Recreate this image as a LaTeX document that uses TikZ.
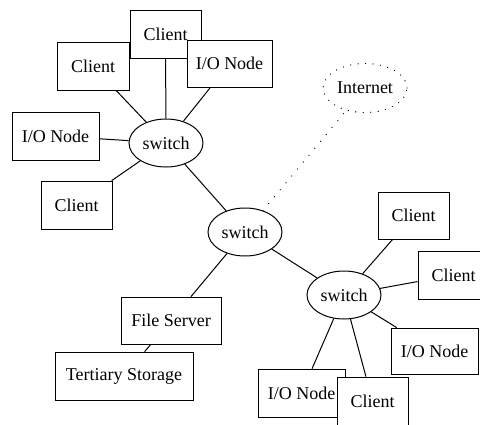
\documentclass[tikz,border=0pt]{standalone}
\usepackage{fontspec}
\setmainfont{Liberation Serif}
\usetikzlibrary{backgrounds}
\tikzset{
  box/.style={draw=black, fill=white, line width=0.7pt, inner sep=0pt},
  hub/.style={draw=black, fill=white, ellipse, line width=1pt, minimum width=74pt, minimum height=48pt, inner sep=0pt},
  cloud/.style={ellipse, draw=black, line width=1.3pt, line cap=round, dash pattern=on 0pt off 7.5pt, minimum width=84pt, minimum height=49pt, inner sep=0pt},
  link/.style={draw=black, line width=1pt},
  dotlink/.style={draw=black, line width=1.3pt, line cap=round, dash pattern=on 0pt off 9pt}
}
\usetikzlibrary{shapes.geometric}
\begin{document}
\begin{tikzpicture}[x=1pt, y=-1pt, font=\fontsize{18}{21}\selectfont]
\useasboundingbox (0,0) rectangle (480,424);
\clip (0,0) rectangle (480,424);

% switches and the internet cloud
\node[hub] (s1) at (166,143) {switch};
\node[hub] (s2) at (245,232) {switch};
\node[hub] (s3) at (344,295) {switch};
\node[cloud] (net) at (365,88) {Internet};

% hosts, drawn in stacking order
\node[box, minimum width=72pt, minimum height=48pt] (cl1) at (93,66) {Client};
\node[box, minimum width=71pt, minimum height=48pt] (cl2) at (165.5,34) {Client};
\node[box, minimum width=85pt, minimum height=47pt] (io1) at (229.5,63.5) {I/O Node};
\node[box, minimum width=87pt, minimum height=48pt] (io2) at (55.5,136) {I/O Node};
\node[box, minimum width=71pt, minimum height=48pt] (cl3) at (76.5,205) {Client};
\node[box, minimum width=100pt, minimum height=47pt] (fs) at (171,320.5) {File Server};
\node[box, minimum width=138pt, minimum height=48pt] (ts) at (124,376) {Tertiary Storage};
\node[box, minimum width=71pt, minimum height=47pt] (cl4) at (413.5,215.5) {Client};
\node[box, minimum width=71pt, minimum height=48pt] (cl5) at (453.5,275) {Client};
\node[box, minimum width=87pt, minimum height=46pt] (io3) at (434.5,351) {I/O Node};
\node[box, minimum width=87pt, minimum height=48pt] (io4) at (301.5,393) {I/O Node};
\node[box, minimum width=71pt, minimum height=48pt] (cl6) at (372.5,401) {Client};

% links
\begin{pgfonlayer}{background}
\draw[link] (s1) -- (cl1);
\draw[link] (s1) -- (cl2);
\draw[link] (s1) -- (io1);
\draw[link] (s1) -- (io2);
\draw[link] (s1) -- (cl3);
\draw[link] (s1) -- (s2);
\draw[link] (s2) -- (fs);
\draw[link] (fs) -- (ts);
\draw[link] (s2) -- (s3);
\draw[link] (s3) -- (cl4);
\draw[link] (s3) -- (cl5);
\draw[link] (s3) -- (io3);
\draw[link] (s3) -- (io4);
\draw[link] (s3) -- (cl6);
\draw[dotlink] (s2) -- (net);
\end{pgfonlayer}
\end{tikzpicture}
\end{document}
